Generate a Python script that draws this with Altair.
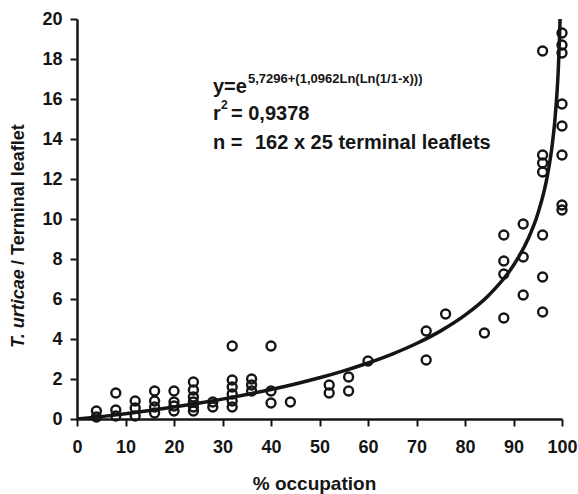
import altair as alt
import pandas as pd

# ---- data ----
occupation = [4, 4,
              8, 8, 8,
              12, 12, 12,
              16, 16, 16, 16,
              20, 20, 20, 20,
              24, 24, 24, 24, 24, 24,
              28, 28,
              32, 32, 32, 32, 32, 32,
              36, 36, 36,
              40, 40, 40,
              44,
              52, 52,
              56, 56,
              60,
              72, 72,
              76,
              84,
              88, 88, 88, 88,
              92, 92, 92,
              96, 96, 96, 96, 96, 96, 96,
              100, 100, 100, 100, 100, 100, 100, 100]
mites = [0.4, 0.1,
         1.3, 0.45, 0.15,
         0.9, 0.55, 0.15,
         1.4, 0.9, 0.6, 0.3,
         1.4, 0.85, 0.65, 0.4,
         1.85, 1.45, 1.1, 0.85, 0.6, 0.4,
         0.85, 0.6,
         3.65, 1.95, 1.6, 1.25, 0.9, 0.6,
         2.0, 1.7, 1.4,
         3.65, 1.4, 0.8,
         0.85,
         1.7, 1.3,
         2.1, 1.4,
         2.9,
         4.4, 2.95,
         5.25,
         4.3,
         9.2, 7.9, 7.25, 5.05,
         9.75, 8.1, 6.2,
         18.4, 13.2, 12.8, 12.35, 9.2, 7.1, 5.35,
         19.3, 18.7, 18.3, 15.75, 14.65, 13.2, 10.7, 10.45]

fit_x = [0, 5, 10, 15, 20, 25, 30, 35, 40, 45, 50, 55, 60, 65, 70, 75, 80, 85,
         90, 93, 95, 97, 98, 98.5, 99, 99.2, 99.5, 99.6]
fit_y = [0, 0.119, 0.261, 0.420, 0.595, 0.786, 0.995, 1.224, 1.475, 1.752,
         2.061, 2.407, 2.799, 3.249, 3.775, 4.406, 5.190, 6.214, 7.685, 8.999,
         10.25, 12.18, 13.74, 14.85, 16.43, 17.30, 19.16, 20.0]

x_ticks = [0, 10, 20, 30, 40, 50, 60, 70, 80, 90, 100]
y_ticks = [0, 2, 4, 6, 8, 10, 12, 14, 16, 18, 20]

x_title = "% occupation"
y_title_italic = "T. urticae"
y_title_rest = "/ Terminal leaflet"
eq_base = "y=e"
eq_exp = "5,7296+(1,0962Ln(Ln(1/1-x)))"
r_base = "r"
r_sup = "2"
r_rest = "= 0,9378"
n_lead = "n ="
n_rest = "162 x 25 terminal leaflets"

FONT = "Liberation Sans"
INK = "#151515"

pts = pd.DataFrame({"occ": occupation, "mites": mites})
fit = pd.DataFrame({"occ": fit_x, "mites": fit_y})

xscale = alt.Scale(domain=[0, 100], nice=False, zero=False)
yscale = alt.Scale(domain=[0, 20], nice=False, zero=False)

xaxis = alt.Axis(values=x_ticks, title=x_title, grid=False, domainColor=INK,
                 domainWidth=2.5, tickColor=INK, tickWidth=2, tickSize=7,
                 labelFont=FONT, labelFontSize=18, labelFontWeight="bold",
                 labelColor=INK, labelPadding=12, labelFlush=False,
                 labelOverlap=False,
                 titleFont=FONT, titleFontSize=19, titleFontWeight="bold",
                 titleColor=INK, titleY=70, titleX=237,
                 titleBaseline="alphabetic")
yaxis = alt.Axis(values=y_ticks, title=None, grid=False, domainColor=INK,
                 domainWidth=2.5, tickColor=INK, tickWidth=2, tickSize=7,
                 labelFont=FONT, labelFontSize=18, labelFontWeight="bold",
                 labelColor=INK, labelPadding=8, labelFlush=False,
                 labelOverlap=False)

curve = alt.Chart(fit).mark_line(
    color=INK, strokeWidth=3.5, interpolate="monotone", clip=True
).encode(
    x=alt.X("occ:Q", scale=xscale, axis=xaxis),
    y=alt.Y("mites:Q", scale=yscale, axis=yaxis),
)

points = alt.Chart(pts).mark_point(
    shape="circle", filled=False, size=80, strokeWidth=2.4, color=INK, opacity=1
).encode(
    x=alt.X("occ:Q", scale=xscale, axis=xaxis),
    y=alt.Y("mites:Q", scale=yscale, axis=yaxis),
)


def label(txt, x, y, size, align="left", baseline="alphabetic", style="normal", angle=0):
    return alt.Chart(pd.DataFrame({"t": [txt]})).mark_text(
        font=FONT, fontSize=size, fontWeight="bold", fontStyle=style,
        align=align, baseline=baseline, angle=angle, color=INK
    ).encode(text="t:N", x=alt.value(x), y=alt.value(y))


texts = [
    label(eq_base, 136, 74, 20),
    label(eq_exp, 171, 64, 13),
    label(r_base, 136, 101, 20),
    label(r_sup, 144, 90, 12),
    label(r_rest, 154, 101, 20),
    label(n_lead, 136, 130, 20),
    label(n_rest, 178, 130, 20),
    label(y_title_italic, -58, 329, 18, baseline="middle", style="italic", angle=270),
    label(y_title_rest, -58, 246, 18, baseline="middle", angle=270),
]

chart = alt.layer(curve, points, *texts).properties(
    width=485, height=400,
    autosize=alt.AutoSizeParams(type="none"),
    padding={"left": 77, "top": 19, "right": 16, "bottom": 75},
    background="white",
).configure_view(stroke=None).configure_axis(labelOverlap=False)

chart.save("out.html", embed_options={"renderer": "svg", "actions": False})
